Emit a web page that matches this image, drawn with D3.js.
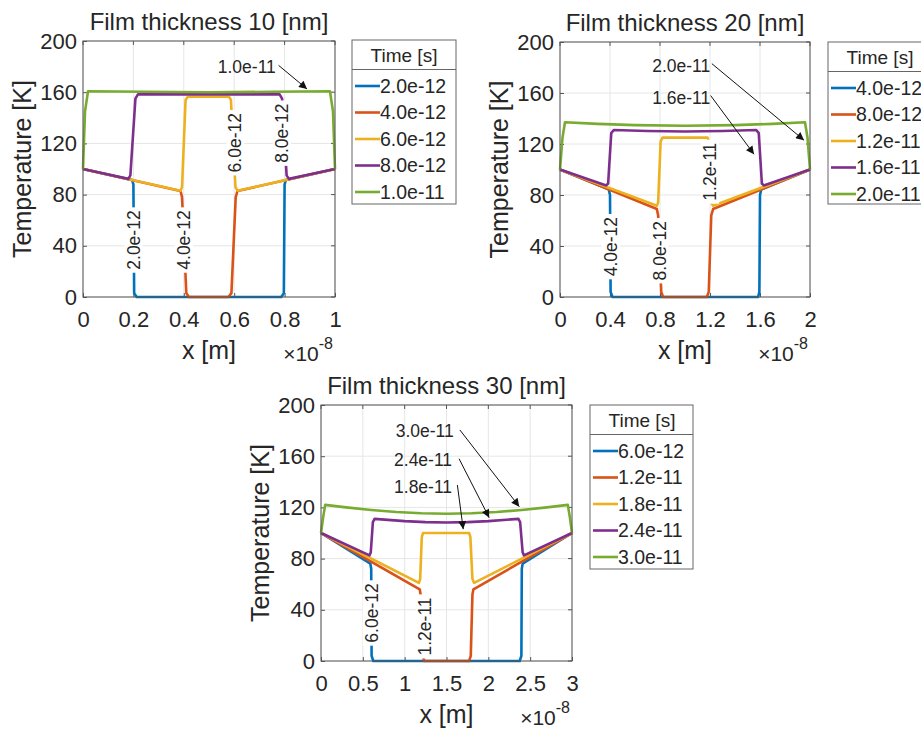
<!DOCTYPE html>
<html>
<head>
<meta charset="utf-8">
<script src="https://cdn.jsdelivr.net/npm/d3@7"></script>
<style>
  body { margin: 0; background: #fff; }
  svg text { font-family: "Liberation Sans", Arial, Helvetica, sans-serif; fill: #262626; }
</style>
</head>
<body>
<svg id="fig" width="921" height="729"></svg>
<script>
// MATLAB default line colours, one per time step
const colors = ['#0072BD', '#D95319', '#EDB120', '#7E2F8E', '#77AC30'];
const yTicks = [0, 40, 80, 120, 160, 200];

////////////////// 10 nm film
const times10 = ['2.0e-12', '4.0e-12', '6.0e-12', '8.0e-12', '1.0e-11'];
const xTicks10 = [0, 0.2, 0.4, 0.6, 0.8, 1];
const xTickLabels10 = ['0', '0.2', '0.4', '0.6', '0.8', '1'];
const t10_a = [[0,100],[0.195,91.4],[0.2,88],[0.203,3],[0.213,0],[0.787,0],[0.797,3],[0.8,88],[0.805,91.4],[1,100]];
const t10_b = [[0,100],[0.387,82.8],[0.393,78],[0.41,3],[0.42,0],[0.577,0],[0.589,3],[0.606,78],[0.613,82.8],[1,100]];
const t10_c = [[0,100],[0.387,83],[0.393,86],[0.407,154],[0.416,156.5],[0.579,156.5],[0.587,154],[0.605,86],[0.613,83],[1,100]];
const t10_d = [[0,100],[0.18,92.3],[0.188,95],[0.208,155],[0.218,158.3],[0.78,158.3],[0.79,155],[0.808,95],[0.817,92.3],[1,100]];
const t10_e = [[0,100],[0.008,145],[0.02,160.8],[0.25,160.3],[0.5,160],[0.75,160.3],[0.98,160.8],[0.992,145],[1,100]];
const labels10 = [
  { text: '2.0e-12', x: 0.2, y: 44.5 },
  { text: '4.0e-12', x: 0.4, y: 44.5 },
  { text: '6.0e-12', x: 0.603, y: 120.5 },
  { text: '8.0e-12', x: 0.789, y: 128 }
];
const notes10 = [
  { text: '1.0e-11', x: 0.65, y: 180, x1: 0.776, y1: 181, x2: 0.889, y2: 162.5 }
];

////////////////// 20 nm film
const times20 = ['4.0e-12', '8.0e-12', '1.2e-11', '1.6e-11', '2.0e-11'];
const xTicks20 = [0, 0.4, 0.8, 1.2, 1.6, 2];
const xTickLabels20 = ['0', '0.4', '0.8', '1.2', '1.6', '2'];
const t20_a = [[0,100],[0.39,84.4],[0.4,80],[0.405,4],[0.42,0],[1.585,0],[1.595,4],[1.6,80],[1.61,84.4],[2,100]];
const t20_b = [[0,100],[0.775,69],[0.785,64],[0.81,4],[0.825,0],[1.175,0],[1.19,4],[1.21,64],[1.225,69],[2,100]];
const t20_c = [[0,100],[0.775,71.5],[0.785,74],[0.805,122],[0.82,125],[1.18,125],[1.19,122],[1.21,74],[1.225,71.5],[2,100]];
const t20_d = [[0,100],[0.37,87.5],[0.385,89],[0.41,128.5],[0.43,131],[0.7,130.2],[1.0,129.8],[1.3,130.2],[1.57,131],[1.59,128.5],[1.615,89],[1.63,87.5],[2,100]];
const t20_e = [[0,100],[0.02,125],[0.04,137],[0.3,135.8],[0.6,134.8],[1.0,134.3],[1.4,134.8],[1.7,135.8],[1.96,137],[1.98,125],[2,100]];
const labels20 = [
  { text: '4.0e-12', x: 0.405, y: 39.5 },
  { text: '8.0e-12', x: 0.795, y: 36.3 },
  { text: '1.2e-11', x: 1.2, y: 98.3 }
];
const notes20 = [
  { text: '2.0e-11', x: 0.97, y: 181, x1: 1.215, y1: 183, x2: 1.952, y2: 123 },
  { text: '1.6e-11', x: 0.97, y: 156, x1: 1.205, y1: 158, x2: 1.552, y2: 112 }
];

////////////////// 30 nm film
const times30 = ['6.0e-12', '1.2e-11', '1.8e-11', '2.4e-11', '3.0e-11'];
const xTicks30 = [0, 0.5, 1, 1.5, 2, 2.5, 3];
const xTickLabels30 = ['0', '0.5', '1', '1.5', '2', '2.5', '3'];
const t30_a = [[0,100],[0.59,76],[0.6,72],[0.605,4],[0.625,0],[2.375,0],[2.395,4],[2.4,72],[2.41,76],[3,100]];
const t30_b = [[0,100],[1.18,56],[1.19,52],[1.215,4],[1.235,0],[1.77,0],[1.79,4],[1.81,52],[1.822,56],[3,100]];
const t30_c = [[0,100],[1.17,61],[1.185,64],[1.205,97],[1.22,100],[1.77,100],[1.785,97],[1.81,64],[1.83,61],[3,100]];
const t30_d = [[0,100],[0.58,82.5],[0.595,85],[0.62,108.5],[0.64,111],[1.0,109.3],[1.25,108.5],[1.5,108.2],[1.75,108.5],[2.0,109.3],[2.36,111],[2.38,108.5],[2.41,85],[2.425,82.5],[3,100]];
const t30_e = [[0,100],[0.025,112],[0.05,122],[0.3,120],[0.6,118],[0.9,116.4],[1.2,115.4],[1.5,115],[1.8,115.4],[2.1,116.4],[2.4,118],[2.7,120],[2.95,122],[2.975,112],[3,100]];
const labels30 = [
  { text: '6.0e-12', x: 0.605, y: 37.5 },
  { text: '1.2e-11', x: 1.243, y: 27 }
];
const notes30 = [
  { text: '3.0e-11', x: 1.24, y: 179.7, x1: 1.66, y1: 180.5, x2: 2.37, y2: 120.6 },
  { text: '2.4e-11', x: 1.22, y: 157.3, x1: 1.65, y1: 158, x2: 2.01, y2: 112 },
  { text: '1.8e-11', x: 1.22, y: 136.2, x1: 1.63, y1: 137.5, x2: 1.70, y2: 103 }
];

const svg = d3.select('#fig');

svg.append('defs').append('marker')
  .attr('id', 'arrow')
  .attr('viewBox', '0 0 10 10')
  .attr('refX', 10).attr('refY', 5)
  .attr('markerUnits', 'userSpaceOnUse')
  .attr('markerWidth', 10).attr('markerHeight', 8)
  .attr('orient', 'auto')
  .append('path')
  .attr('d', 'M0,0 L10,5 L0,10 z')
  .attr('fill', '#111');

function drawPanel(p) {
  const x = d3.scaleLinear().domain(p.xDomain).range([p.left, p.left + p.width]);
  const y = d3.scaleLinear().domain([0, 200]).range([p.top + p.height, p.top]);
  const g = svg.append('g');

  // grid
  g.append('g').selectAll('line').data(p.xTicks).join('line')
    .attr('x1', d => x(d)).attr('x2', d => x(d))
    .attr('y1', p.top).attr('y2', p.top + p.height)
    .attr('stroke', '#e6e6e6').attr('stroke-width', 1);
  g.append('g').selectAll('line').data(yTicks).join('line')
    .attr('y1', d => y(d)).attr('y2', d => y(d))
    .attr('x1', p.left).attr('x2', p.left + p.width)
    .attr('stroke', '#e6e6e6').attr('stroke-width', 1);

  // axes (ticks inside like matlab)
  const xa = g.append('g')
    .attr('transform', `translate(0 ${p.top + p.height})`)
    .call(d3.axisBottom(x).tickValues(p.xTicks)
      .tickFormat((d, i) => p.xTickLabels[i])
      .tickSizeInner(-4).tickSizeOuter(0).tickPadding(14));
  const ya = g.append('g')
    .attr('transform', `translate(${p.left} 0)`)
    .call(d3.axisLeft(y).tickValues(yTicks)
      .tickSizeInner(-4).tickSizeOuter(0).tickPadding(6));
  [xa, ya].forEach(a => {
    a.select('.domain').remove();
    a.selectAll('line').attr('stroke', '#555');
    a.selectAll('text').style('font-size', '22px').attr('fill', '#262626');
  });
  // mirrored ticks top / right
  g.append('g').selectAll('line').data(p.xTicks).join('line')
    .attr('x1', d => x(d)).attr('x2', d => x(d))
    .attr('y1', p.top).attr('y2', p.top + 4).attr('stroke', '#555');
  g.append('g').selectAll('line').data(yTicks).join('line')
    .attr('y1', d => y(d)).attr('y2', d => y(d))
    .attr('x1', p.left + p.width).attr('x2', p.left + p.width - 4).attr('stroke', '#555');

  // curves
  const line = d3.line()
    .x(d => x(d[0]))
    .y(d => y(d[1]));
  p.series.forEach((s, i) => {
    g.append('path')
      .datum(s)
      .attr('fill', 'none')
      .attr('stroke', colors[i])
      .attr('stroke-width', 2.6)
      .attr('stroke-linejoin', 'round')
      .attr('d', line);
  });

  // box
  g.append('rect')
    .attr('x', p.left).attr('y', p.top)
    .attr('width', p.width).attr('height', p.height)
    .attr('fill', 'none').attr('stroke', '#555').attr('stroke-width', 1);

  // inline labels on the curves
  p.labels.forEach(l => {
    const lg = g.append('g')
      .attr('transform', `translate(${x(l.x)} ${y(l.y)}) rotate(-90)`);
    const t = lg.append('text')
      .attr('text-anchor', 'middle')
      .attr('dy', '0.35em')
      .style('font-size', '17.5px')
      .text(l.text);
    const bb = t.node().getBBox();
    lg.insert('rect', 'text')
      .attr('x', bb.x - 3).attr('y', bb.y + 1)
      .attr('width', bb.width + 6).attr('height', bb.height - 2)
      .attr('fill', '#fff');
  });

  // arrow annotations
  p.notes.forEach(n => {
    g.append('text')
      .attr('x', x(n.x)).attr('y', y(n.y))
      .attr('text-anchor', 'middle')
      .attr('dy', '0.35em')
      .style('font-size', '17.5px')
      .text(n.text);
    g.append('line')
      .attr('x1', x(n.x1)).attr('y1', y(n.y1))
      .attr('x2', x(n.x2)).attr('y2', y(n.y2))
      .attr('stroke', '#111').attr('stroke-width', 1)
      .attr('marker-end', 'url(#arrow)');
  });

  // title + axis labels
  g.append('text')
    .attr('x', p.left + p.width / 2).attr('y', p.top - 11)
    .attr('text-anchor', 'middle')
    .style('font-size', '24px')
    .attr('fill', '#111')
    .text(p.title);
  g.append('text')
    .attr('transform', `translate(${p.left - 61} ${p.top + p.height / 2}) rotate(-90)`)
    .attr('text-anchor', 'middle')
    .attr('dy', '0.35em')
    .style('font-size', '25px')
    .text('Temperature [K]');
  g.append('text')
    .attr('x', p.left + p.width / 2).attr('y', p.top + p.height + 62)
    .attr('text-anchor', 'middle')
    .style('font-size', '25px')
    .text('x [m]');
  const ex = g.append('text')
    .attr('x', p.left + p.width - 2).attr('y', p.top + p.height + 64)
    .attr('text-anchor', 'end')
    .style('font-size', '21px');
  ex.append('tspan').text('\u00d710');
  ex.append('tspan').attr('dy', -12).style('font-size', '16px').text('-8');

  // legend
  const L = p.legend;
  const lg = svg.append('g');
  lg.append('rect')
    .attr('x', L.x).attr('y', L.y).attr('width', L.w).attr('height', L.h)
    .attr('fill', '#fff').attr('stroke', '#666').attr('stroke-width', 1);
  lg.append('line')
    .attr('x1', L.x).attr('x2', L.x + L.w)
    .attr('y1', L.y + 29.5).attr('y2', L.y + 29.5)
    .attr('stroke', '#666');
  lg.append('text')
    .attr('x', L.x + 52).attr('y', L.y + 22)
    .attr('text-anchor', 'middle')
    .style('font-size', '19px')
    .text('Time [s]');
  p.times.forEach((t, i) => {
    const cy = L.y + 46 + i * 26.5;
    lg.append('line')
      .attr('x1', L.x + 3).attr('x2', L.x + 28)
      .attr('y1', cy).attr('y2', cy)
      .attr('stroke', colors[i]).attr('stroke-width', 2.6);
    lg.append('text')
      .attr('x', L.x + 28).attr('y', cy)
      .attr('dy', '0.35em')
      .style('font-size', '19.5px')
      .text(t);
  });
}

drawPanel({
  title: 'Film thickness 10 [nm]',
  left: 83, top: 41, width: 252, height: 256,
  xDomain: [0, 1], xTicks: xTicks10, xTickLabels: xTickLabels10,
  series: [t10_a, t10_b, t10_c, t10_d, t10_e],
  labels: labels10, notes: notes10, times: times10,
  legend: { x: 352, y: 40, w: 104, h: 164 }
});
drawPanel({
  title: 'Film thickness 20 [nm]',
  left: 560, top: 42, width: 250, height: 255,
  xDomain: [0, 2], xTicks: xTicks20, xTickLabels: xTickLabels20,
  series: [t20_a, t20_b, t20_c, t20_d, t20_e],
  labels: labels20, notes: notes20, times: times20,
  legend: { x: 828, y: 42, w: 104, h: 162 }
});
drawPanel({
  title: 'Film thickness 30 [nm]',
  left: 321, top: 405, width: 251, height: 256,
  xDomain: [0, 3], xTicks: xTicks30, xTickLabels: xTickLabels30,
  series: [t30_a, t30_b, t30_c, t30_d, t30_e],
  labels: labels30, notes: notes30, times: times30,
  legend: { x: 590, y: 405, w: 103, h: 164 }
});
</script>
</body>
</html>
